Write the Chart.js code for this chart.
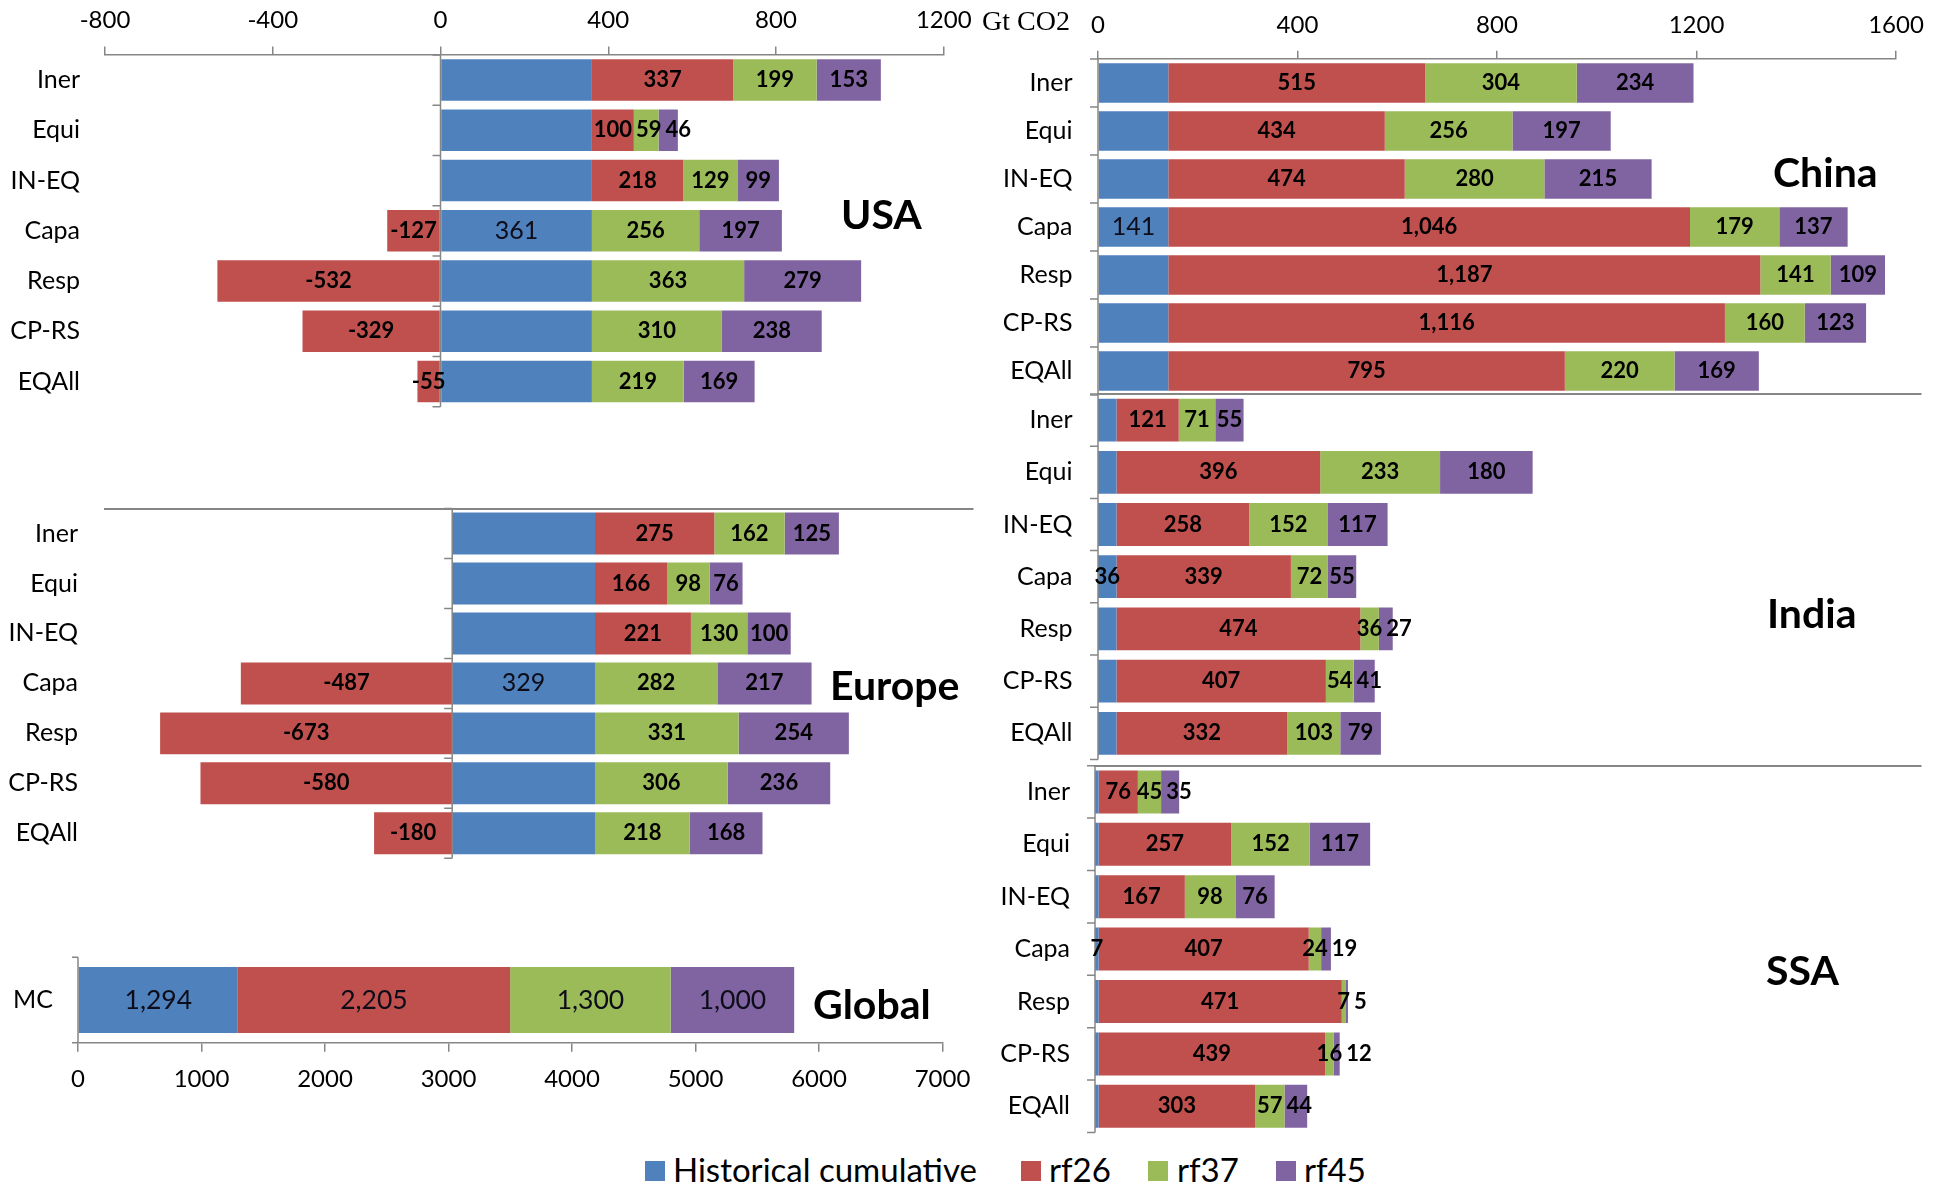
<!DOCTYPE html>
<html>
<head>
<meta charset="utf-8">
<title>Cumulative CO2 emission allowances by region</title>
<script src="https://cdn.jsdelivr.net/npm/chart.js@4.4.1/dist/chart.umd.min.js"></script>
<style>
  html, body { margin: 0; padding: 0; background: #fff; }
  body { width: 1945px; height: 1186px; position: relative; overflow: hidden; font-family: Lato, sans-serif; }
  canvas { position: absolute; }
  .title { position: absolute; font: bold 41px Lato, sans-serif; line-height: 41px; white-space: nowrap; color: #000; }
  .unit { position: absolute; font: 28px "Liberation Serif", serif; line-height: 28px; white-space: nowrap; color: #000; }
  .swatch { position: absolute; width: 20px; height: 20px; }
  .legend-text { position: absolute; font: 33px Lato, sans-serif; line-height: 33px; white-space: nowrap; color: #000; }
</style>
</head>
<body>
<script>
// ---- data (Gt CO2) ----
const categories = ['Iner', 'Equi', 'IN-EQ', 'Capa', 'Resp', 'CP-RS', 'EQAll'];
const globalCategories = ['MC'];
const seriesNames = ['Historical cumulative', 'rf26', 'rf37', 'rf45'];

const usaHistorical = [361, 361, 361, 361, 361, 361, 361];
const usaRf26 = [337, 100, 218, -127, -532, -329, -55];
const usaRf37 = [199, 59, 129, 256, 363, 310, 219];
const usaRf45 = [153, 46, 99, 197, 279, 238, 169];

const europeHistorical = [329, 329, 329, 329, 329, 329, 329];
const europeRf26 = [275, 166, 221, -487, -673, -580, -180];
const europeRf37 = [162, 98, 130, 282, 331, 306, 218];
const europeRf45 = [125, 76, 100, 217, 254, 236, 168];

const globalHistorical = [1294];
const globalRf26 = [2205];
const globalRf37 = [1300];
const globalRf45 = [1000];

const chinaHistorical = [141, 141, 141, 141, 141, 141, 141];
const chinaRf26 = [515, 434, 474, 1046, 1187, 1116, 795];
const chinaRf37 = [304, 256, 280, 179, 141, 160, 220];
const chinaRf45 = [234, 197, 215, 137, 109, 123, 169];

const indiaHistorical = [36, 36, 36, 36, 36, 36, 36];
const indiaRf26 = [121, 396, 258, 339, 474, 407, 332];
const indiaRf37 = [71, 233, 152, 72, 36, 54, 103];
const indiaRf45 = [55, 180, 117, 55, 27, 41, 79];

const ssaHistorical = [7, 7, 7, 7, 7, 7, 7];
const ssaRf26 = [76, 257, 167, 407, 471, 439, 303];
const ssaRf37 = [45, 152, 98, 24, 7, 16, 57];
const ssaRf45 = [35, 117, 76, 19, 5, 12, 44];

const regionTicks = [-800, -400, 0, 400, 800, 1200];
const asiaTicks = [0, 400, 800, 1200, 1600];
const globalTicks = [0, 1000, 2000, 3000, 4000, 5000, 6000, 7000];

// ---- styling ----
const COLORS = ['#4F81BD', '#C0504D', '#9BBB59', '#8064A2'];
const AXIS_GRAY = '#868686';
Chart.defaults.font.family = 'Lato, sans-serif';
Chart.defaults.color = '#000';

// vertical category axis drawn through x = 0, with tick marks between bars
const zeroAxis = {
  id: 'zeroAxis',
  afterDatasetsDraw(chart, args, opts) {
    const { ctx, chartArea, scales: { x } } = chart;
    const px = x.getPixelForValue(0);
    const n = chart.data.labels.length;
    const band = (chartArea.bottom - chartArea.top) / n;
    ctx.save();
    ctx.strokeStyle = opts.color;
    ctx.lineWidth = opts.width;
    ctx.beginPath();
    ctx.moveTo(px, chartArea.top);
    ctx.lineTo(px, chartArea.bottom);
    for (let i = 0; i <= n; i++) {
      const y = chartArea.top + i * band;
      ctx.moveTo(px - opts.tick, y);
      ctx.lineTo(px, y);
    }
    ctx.stroke();
    ctx.restore();
  }
};

// value labels centred in each bar segment; crowded labels are nudged right
const segmentLabels = {
  id: 'segmentLabels',
  afterDatasetsDraw(chart, args, opts) {
    const ctx = chart.ctx;
    const n = chart.data.labels.length;
    ctx.save();
    ctx.textBaseline = 'middle';
    ctx.textAlign = 'left';
    for (let i = 0; i < n; i++) {
      const items = [];
      chart.data.datasets.forEach((ds, di) => {
        if (di === 0 && !opts.firstRows.includes(i)) return;
        const el = chart.getDatasetMeta(di).data[i];
        const p = el.getProps(['x', 'y', 'base'], true);
        const style = di === 0 ? opts.first : opts.rest;
        ctx.font = style.font;
        const text = ds.data[i].toLocaleString('en-US');
        items.push({ cx: (p.x + p.base) / 2, y: p.y, text, w: ctx.measureText(text).width, style });
      });
      items.sort((a, b) => a.cx - b.cx);
      let prevRight = -Infinity;
      items.forEach(it => {
        const left = Math.max(it.cx - it.w / 2, prevRight + opts.gap);
        ctx.font = it.style.font;
        ctx.fillStyle = it.style.color;
        ctx.fillText(it.text, left, it.y);
        prevRight = left + it.w;
      });
    }
    ctx.restore();
  }
};

const BOLD_LABEL = { font: 'bold 22px Lato', color: '#000' };
const PLAIN_LABEL = { font: '25px Lato', color: '#0d0d1a' };
const GLOBAL_LABEL = { font: '26.5px Lato', color: '#0d0d1a' };
const capaRow = categories.indexOf('Capa');

const panels = [
  { canvas: { x: 0, y: 0, w: 975, h: 415 }, area: { left: 105, right: 943.75, top: 55, bottom: 406.7 },
    xPos: 'top', min: -800, max: 1200, ticks: regionTicks, tickLen: 8.5, tickPad: 12.1, borderW: 1.5,
    barPct: 0.826, labelPad: 25, labels: categories,
    series: [usaHistorical, usaRf26, usaRf37, usaRf45],
    first: PLAIN_LABEL, rest: BOLD_LABEL, firstRows: [capaRow], axisTick: 8 },
  { canvas: { x: 0, y: 470, w: 1000, h: 400 }, area: { left: 105, right: 973, top: 508.5, bottom: 858.3 },
    xPos: 'top', min: -800, max: 1200, ticks: null, borderW: 2,
    barPct: 0.84, labelPad: 27, labels: categories,
    series: [europeHistorical, europeRf26, europeRf37, europeRf45],
    first: PLAIN_LABEL, rest: BOLD_LABEL, firstRows: [capaRow], axisTick: 8 },
  { canvas: { x: 0, y: 940, w: 1000, h: 160 }, area: { left: 78, right: 942.5, top: 957.3, bottom: 1042.7 },
    xPos: 'bottom', min: 0, max: 7000, ticks: globalTicks, tickLen: 9, tickPad: 12.9, borderW: 1.5,
    barPct: 0.77, labelPad: 25, labels: globalCategories,
    series: [globalHistorical, globalRf26, globalRf37, globalRf45],
    first: GLOBAL_LABEL, rest: GLOBAL_LABEL, firstRows: [0], axisTick: 6 },
  { canvas: { x: 960, y: 0, w: 985, h: 400 }, area: { left: 1098, right: 1896, top: 59, bottom: 395 },
    xPos: 'top', min: 0, max: 1600, ticks: asiaTicks, tickLen: 8.3, tickPad: 11.3, borderW: 1.5,
    barPct: 0.82, labelPad: 25.5, labels: categories,
    series: [chinaHistorical, chinaRf26, chinaRf37, chinaRf45],
    first: PLAIN_LABEL, rest: BOLD_LABEL, firstRows: [capaRow], axisTick: 8 },
  { canvas: { x: 960, y: 380, w: 985, h: 385 }, area: { left: 1098, right: 1921, top: 394, bottom: 759.4 },
    xPos: 'top', min: 0, max: 1600, ticks: null, borderW: 2,
    barPct: 0.82, labelPad: 25.5, labels: categories,
    series: [indiaHistorical, indiaRf26, indiaRf37, indiaRf45],
    first: BOLD_LABEL, rest: BOLD_LABEL, firstRows: [capaRow], axisTick: 8 },
  { canvas: { x: 960, y: 750, w: 985, h: 390 }, area: { left: 1095, right: 1921, top: 765.7, bottom: 1132.5 },
    xPos: 'top', min: 0, max: 1600, ticks: null, borderW: 2,
    barPct: 0.82, labelPad: 25, labels: categories,
    series: [ssaHistorical, ssaRf26, ssaRf37, ssaRf45],
    first: BOLD_LABEL, rest: BOLD_LABEL, firstRows: [capaRow], axisTick: 8 }
];

function clearPadding(s) {
  s.paddingLeft = 0; s.paddingRight = 0; s.paddingTop = 0; s.paddingBottom = 0;
}

function buildPanel(p) {
  const c = p.canvas, a = p.area;
  const canvas = document.createElement('canvas');
  canvas.width = c.w; canvas.height = c.h;
  canvas.style.left = c.x + 'px'; canvas.style.top = c.y + 'px';
  canvas.style.width = c.w + 'px'; canvas.style.height = c.h + 'px';
  document.body.appendChild(canvas);

  const yWidth = a.left - c.x;
  const top = p.xPos === 'top';
  const xHeight = top ? a.top - c.y : c.y + c.h - a.bottom;
  const padding = {
    left: 0,
    right: c.x + c.w - a.right,
    top: top ? 0 : a.top - c.y,
    bottom: top ? c.y + c.h - a.bottom : 0
  };
  const showTicks = !!p.ticks;

  new Chart(canvas, {
    type: 'bar',
    data: {
      labels: p.labels,
      datasets: seriesNames.map((name, k) => ({
        label: name,
        data: p.series[k],
        backgroundColor: COLORS[k],
        borderWidth: 0,
        barPercentage: p.barPct,
        categoryPercentage: 1
      }))
    },
    options: {
      indexAxis: 'y',
      responsive: false,
      animation: false,
      devicePixelRatio: 1,
      layout: { padding },
      scales: {
        x: {
          type: 'linear', position: p.xPos, stacked: true, min: p.min, max: p.max,
          afterBuildTicks: s => { if (p.ticks) s.ticks = p.ticks.map(v => ({ value: v })); },
          ticks: { display: showTicks, callback: v => String(v), font: { size: 24 }, color: '#000',
                   padding: p.tickPad || 0, maxRotation: 0, autoSkip: false },
          grid: { display: showTicks, drawOnChartArea: false, drawTicks: showTicks,
                  tickLength: p.tickLen || 0, color: AXIS_GRAY, lineWidth: 1.5 },
          border: { display: true, color: AXIS_GRAY, width: p.borderW },
          afterFit: s => { s.height = xHeight; clearPadding(s); }
        },
        y: {
          type: 'category', stacked: true, position: 'left', offset: true,
          ticks: { font: { size: 25 }, color: '#000', padding: p.labelPad, autoSkip: false },
          grid: { display: false, drawTicks: false },
          border: { display: false },
          afterFit: s => { s.width = yWidth; clearPadding(s); }
        }
      },
      plugins: {
        legend: { display: false },
        tooltip: { enabled: false },
        zeroAxis: { color: AXIS_GRAY, width: 1.5, tick: p.axisTick },
        segmentLabels: { first: p.first, rest: p.rest, firstRows: p.firstRows, gap: 4 }
      }
    },
    plugins: [zeroAxis, segmentLabels]
  });
}

panels.forEach(buildPanel);

// region names
const titles = [
  ['USA', 841, 193.3], ['Europe', 830, 664.3], ['Global', 813, 983.3],
  ['China', 1773, 151.3], ['India', 1767, 591.6], ['SSA', 1766, 948.8]
];
titles.forEach(([text, x, y]) => {
  const d = document.createElement('div');
  d.className = 'title';
  d.textContent = text;
  d.style.left = x + 'px'; d.style.top = y + 'px';
  document.body.appendChild(d);
});

// unit of the upper right axis
const unit = document.createElement('div');
unit.className = 'unit';
unit.textContent = 'Gt CO2';
unit.style.left = '982px'; unit.style.top = '6.8px';
document.body.appendChild(unit);

// legend
const legendSlots = [[645, 673], [1021, 1049], [1148, 1177], [1276, 1304]];
seriesNames.forEach((name, k) => {
  const sw = document.createElement('div');
  sw.className = 'swatch';
  sw.style.background = COLORS[k];
  sw.style.left = legendSlots[k][0] + 'px'; sw.style.top = '1160.7px';
  document.body.appendChild(sw);
  const t = document.createElement('div');
  t.className = 'legend-text';
  t.textContent = name;
  t.style.left = legendSlots[k][1] + 'px'; t.style.top = '1153px';
  document.body.appendChild(t);
});
</script>
</body>
</html>
